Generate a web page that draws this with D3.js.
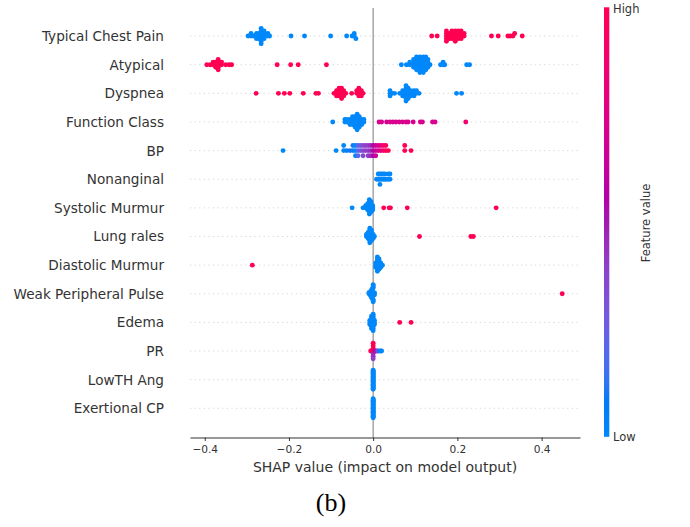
<!DOCTYPE html>
<html>
<head>
<meta charset="utf-8">
<script src="https://d3js.org/d3.v7.min.js"></script>
<style>
body{
  margin:0;
  background:#fff;
}
svg text{
  font-family:"DejaVu Sans", sans-serif;
  fill:#333333;
}
.caption{
  font-family:"Liberation Serif", "Times New Roman", serif;
  fill:#000;
}
.x-axis path, .x-axis line{
  stroke:#333333;
}
</style>
</head>
<body>
<div id="chart"></div>
<script>
// feature names, top to bottom
const features = ["Typical Chest Pain", "Atypical", "Dyspnea", "Function Class", "BP",
  "Nonanginal", "Systolic Murmur", "Lung rales", "Diastolic Murmur",
  "Weak Peripheral Pulse", "Edema", "PR", "LowTH Ang", "Exertional CP"];

// each entry: [shap value, feature value (0 low .. 1 high), number of samples]
const typicalChestPain = [
  [-0.297,0,1],[-0.290,0,2],[-0.284,0,1],[-0.277,0,3],[-0.271,0,3],[-0.266,0,7],[-0.259,0,4],
  [-0.250,0,2],[-0.246,0,1],[-0.195,0,1],[-0.163,0,1],[-0.101,0,1],[-0.063,0,1],
  [-0.050,0,1],[-0.045,0,2],[-0.041,0,1],
  [0.139,1,1],[0.152,1,1],[0.174,1,5],[0.181,1,3],[0.187,1,4],[0.195,1,5],[0.202,1,4],
  [0.209,1,4],[0.216,1,2],[0.281,1,1],[0.297,1,1],[0.320,1,1],[0.326,1,1],
  [0.332,1,1],[0.336,1,1],[0.354,1,1]];
const atypical = [
  [-0.395,1,1],[-0.387,1,1],[-0.380,1,2],[-0.374,1,3],[-0.368,1,5],[-0.360,1,2],[-0.350,1,1],
  [-0.342,1,1],[-0.336,1,1],[-0.228,1,1],[-0.196,1,1],[-0.178,1,1],[-0.111,1,1],
  [0.067,0,1],[0.079,0,1],[0.087,0,2],[0.096,0,4],[0.103,0,6],[0.111,0,7],[0.119,0,7],
  [0.125,0,6],[0.130,0,4],[0.135,0,1],[0.160,0,1],[0.166,0,2],[0.170,0,1],[0.222,0,1],[0.229,0,1]];
const dyspnea = [
  [-0.278,1,1],[-0.225,1,1],[-0.211,1,1],[-0.198,1,1],[-0.166,1,1],[-0.136,1,1],[-0.130,1,1],
  [-0.093,1,1],[-0.087,1,3],[-0.081,1,4],[-0.075,1,5],[-0.070,1,3],[-0.065,1,1],[-0.051,1,1],
  [-0.039,1,2],[-0.034,1,4],[-0.028,1,3],[-0.024,1,1],
  [0.040,0,3],[0.045,0,1],[0.051,0,1],[0.063,0,1],[0.070,0,3],[0.078,0,7],[0.083,0,5],
  [0.089,0,3],[0.097,0,3],[0.103,0,2],[0.109,0,1],[0.198,0,1],[0.210,0,1]];
const functionClass = [
  [-0.096,0,1],[-0.067,0,2],[-0.062,0,2],[-0.055,0,3],[-0.049,0,4],[-0.043,0,5],[-0.038,0,7],
  [-0.033,0,5],[-0.027,0,3],[-0.022,0,2],
  [0.014,0.72,1],[0.020,0.72,1],[0.032,0.72,1],[0.040,0.72,1],[0.047,0.72,1],[0.054,0.72,1],
  [0.062,0.72,1],[0.070,0.72,1],[0.078,0.72,1],[0.083,0.72,1],[0.095,0.72,1],[0.112,0.72,1],
  [0.117,0.72,1],[0.141,0.72,1],[0.147,0.72,1],[0.220,0.85,1]];
const bp = [
  [-0.214,0,1],[-0.088,0,1],[-0.070,0,2],[-0.063,0.05,1],[-0.055,0.1,1],[-0.048,0.1,2],
  [-0.042,0,3],[-0.036,0.2,3],[-0.030,0.3,2],[-0.024,0.35,3],[-0.018,0.4,2],[-0.012,0.4,3],
  [-0.006,0.45,3],[0.000,0.55,3],[0.006,0.65,3],[0.012,0.7,2],[0.018,0.75,2],[0.024,0.9,2],
  [0.030,0.95,2],[0.036,1,1],[0.075,1,2],[0.090,1,1]];
const nonanginal = [
  [0.008,0,1],[0.012,0,2],[0.016,0,3],[0.020,0,2],[0.024,0,2],[0.028,0,2],[0.032,0,1],
  [0.036,0,2],[0.040,0,2]];
const systolicMurmur = [
  [-0.050,0,1],[-0.024,0,1],[-0.018,0,2],[-0.013,0,4],[-0.009,0,8],[-0.005,0,6],[-0.001,0,3],
  [0.025,1,1],[0.038,1,1],[0.041,1,1],[0.081,1,1],[0.292,1,1]];
const lungRales = [
  [-0.016,0,2],[-0.012,0,4],[-0.008,0,8],[-0.004,0,6],[0.000,0,3],[0.003,0,1],
  [0.110,1,1],[0.232,1,1],[0.238,1,1]];
const diastolicMurmur = [
  [-0.287,1,1],[0.006,0,3],[0.010,0,8],[0.014,0,6],[0.018,0,3],[0.022,0,1]];
const weakPulse = [
  [-0.010,0,2],[-0.006,0,5],[-0.003,0,9],[0.000,0,7],[0.003,0,3],[0.449,1,1]];
const edema = [
  [-0.008,0,3],[-0.004,0,7],[0.000,0,9],[0.003,0,3],[0.063,1,1],[0.090,1,1]];
const pr = [
  [-0.006,1,1],[-0.003,1,1],[0.000,1,1],[0.000,1,1],[0.000,0.45,1],[0.000,1,1],[0.000,0.45,1],
  [0.000,1,1],[0.000,0.4,1],[0.004,0.6,1],[0.008,0.5,1],[0.011,0.35,1],[0.014,0.1,1],
  [0.018,0,1],[0.020,0,1]];
const lowthAng = [[0.000,0,25]];
const exertionalCP = [[0.000,0,25]];

const rows = [typicalChestPain, atypical, dyspnea, functionClass, bp, nonanginal, systolicMurmur,
  lungRales, diastolicMurmur, weakPulse, edema, pr, lowthAng, exertionalCP];

const xTicks = [-0.4, -0.2, 0.0, 0.2, 0.4];
const xLabel = "SHAP value (impact on model output)";
const cbarLabel = "Feature value";
const caption = "(b)";

const width = 690, height = 527;
const plot = {left: 190, right: 580, top: 8, bottom: 437.5};

const svg = d3.select("#chart").append("svg")
  .attr("width", width)
  .attr("height", height);

const x = d3.scaleLinear()
  .domain([-0.435, 0.4912])
  .range([plot.left, plot.right]);

// row index -> pixel (row 0 at top)
const y = d3.scaleLinear()
  .domain([-0.98, 14.02])
  .range([plot.top, plot.bottom]);

// shap red_blue colormap (lch path from blue to red)
function redBlue(t){
  t = Math.max(0, Math.min(1, t));
  let h = 266.93 + t * (380.32 - 266.93);
  let c = 70 + 20 * t;
  let l = t < 0.5 ? 54 - 28 * t : 40 + 28 * (t - 0.5);
  return d3.hcl(h, c, l).formatHex();
}

// beeswarm offsets like shap's summary plot
function swarm(data){
  let pts = [];
  data.forEach(([v, f, n]) => { for(let k = 0; k < n; k++) pts.push({v: v, f: f}); });
  let vmin = d3.min(pts, d => d.v), vmax = d3.max(pts, d => d.v);
  pts.forEach((p, i) => {
    p.i = i;
    p.q = Math.round(100 * (p.v - vmin) / (vmax - vmin + 1e-8));
  });
  let order = pts.slice().sort((a, b) => a.q - b.q || a.i - b.i);
  let layer = 0, last = -1;
  order.forEach(p => {
    if(p.q !== last) layer = 0;
    p.ys = Math.ceil(layer / 2) * ((layer % 2) * 2 - 1);
    layer++;
    last = p.q;
  });
  let mx = d3.max(pts, p => p.ys + 1);
  pts.forEach(p => p.ys *= 0.9 * (0.4 / mx));
  return pts;
}

// dotted row lines
svg.append("g")
  .selectAll("line")
  .data(features)
  .join("line")
    .attr("x1", plot.left)
    .attr("x2", plot.right)
    .attr("y1", (d, i) => y(i))
    .attr("y2", (d, i) => y(i))
    .attr("stroke", "#cccccc")
    .attr("stroke-width", 0.8)
    .attr("stroke-dasharray", "1.2,3.4");

// zero line
svg.append("line")
  .attr("x1", x(0)).attr("x2", x(0))
  .attr("y1", plot.top).attr("y2", plot.bottom)
  .attr("stroke", "#999999")
  .attr("stroke-width", 1.3);

// dots
rows.forEach((data, i) => {
  svg.append("g")
    .selectAll("circle")
    .data(swarm(data))
    .join("circle")
      .attr("cx", d => x(d.v))
      .attr("cy", d => y(i - d.ys))
      .attr("r", 2.45)
      .attr("fill", d => redBlue(d.f));
});

// y labels
svg.append("g")
  .selectAll("text")
  .data(features)
  .join("text")
    .attr("x", 164)
    .attr("y", (d, i) => y(i))
    .attr("text-anchor", "end")
    .attr("dominant-baseline", "central")
    .style("font-size", "13.6px")
    .text(d => d);

// x axis
let xAxis = svg.append("g")
  .attr("class", "x-axis")
  .attr("transform", "translate(0," + plot.bottom + ")")
  .call(d3.axisBottom(x)
    .tickValues(xTicks)
    .tickFormat(d3.format(".1f"))
    .tickSizeInner(3.5)
    .tickSizeOuter(0)
    .tickPadding(4));
xAxis.select(".domain").attr("stroke-width", 1.1);
xAxis.selectAll("text")
  .style("font-size", "10.6px")
  .style("font-family", "DejaVu Sans, sans-serif")
  .attr("fill", "#333333");

svg.append("text")
  .attr("x", (plot.left + plot.right) / 2)
  .attr("y", 471.5)
  .attr("text-anchor", "middle")
  .style("font-size", "14px")
  .text(xLabel);

// colorbar
let defs = svg.append("defs");
let grad = defs.append("linearGradient")
  .attr("id", "cbar")
  .attr("x1", 0).attr("y1", 1).attr("x2", 0).attr("y2", 0);
grad.selectAll("stop")
  .data(d3.range(0, 1.0001, 0.02))
  .join("stop")
    .attr("offset", d => d)
    .attr("stop-color", d => redBlue(d));

svg.append("rect")
  .attr("x", 604)
  .attr("y", 7.3)
  .attr("width", 5.3)
  .attr("height", 429.5)
  .attr("fill", "url(#cbar)");

svg.append("text")
  .attr("x", 613)
  .attr("y", 9)
  .attr("dominant-baseline", "central")
  .style("font-size", "11.5px")
  .text("High");
svg.append("text")
  .attr("x", 613)
  .attr("y", 437)
  .attr("dominant-baseline", "central")
  .style("font-size", "11.5px")
  .text("Low");
svg.append("text")
  .attr("transform", "translate(646,223) rotate(-90)")
  .attr("text-anchor", "middle")
  .attr("dominant-baseline", "central")
  .style("font-size", "11.5px")
  .text(cbarLabel);

svg.append("text")
  .attr("class", "caption")
  .attr("x", 331)
  .attr("y", 511)
  .attr("text-anchor", "middle")
  .style("font-size", "26px")
  .text(caption);
</script>
</body>
</html>
